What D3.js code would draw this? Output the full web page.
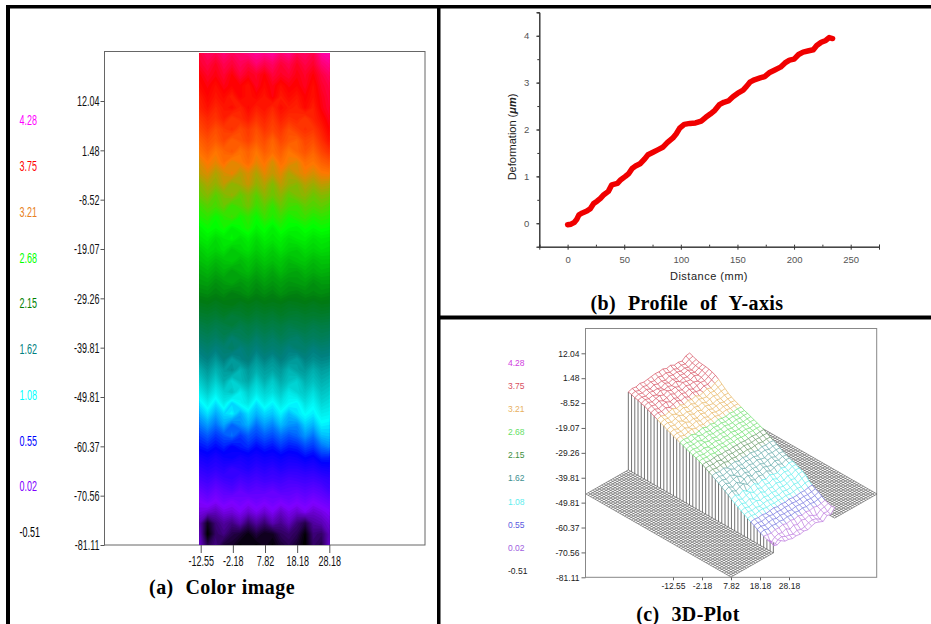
<!DOCTYPE html>
<html><head><meta charset="utf-8">
<script src="https://cdn.jsdelivr.net/npm/d3@7/dist/d3.min.js"></script>
<style>html,body{margin:0;padding:0;background:#fff}svg{display:block}text{font-family:"Liberation Sans",Arial,sans-serif}.cap{font-family:"Liberation Serif",serif;font-weight:bold;font-size:20px;fill:#000;text-anchor:middle;word-spacing:.5px;letter-spacing:.4px}</style>
</head><body><svg id="c" width="931" height="624"></svg>
<script>
// Colour legend shared by panels (a) and (c)
const legendValues=["4.28","3.75","3.21","2.68","2.15","1.62","1.08","0.55","0.02","-0.51"];
const legendColors=["#ff00ff","#ff0000","#e88020","#00ff00","#008000","#008080","#00ffff","#0000ff","#8000ff","#000000"];
const heatColors=["#ff00ff","#ff0000","#ff7800","#00ff00","#007a10","#008080","#00ffff","#0000ff","#8000ff","#000000"];
const legendColors3D=["#d040e0","#d85060","#e8b060","#66e066","#409040","#409090","#60eeee","#5a5ae0","#a060e0","#222222"];
// Mesh colour bands of panel (c), low to high
const bandEdges=[0.05,0.48,1.19,1.83,2.15,2.68,3.39];
const bandColors=["#c080e0","#7a7ae0","#66eeee","#68acac","#6a9c6a","#70e070","#e8b868","#d85868"];
// Tick labels
const yTickLabels=["12.04","1.48","-8.52","-19.07","-29.26","-39.81","-49.81","-60.37","-70.56","-81.11"];
const xTickLabels=["-12.55","-2.18","7.82","18.18","28.18"];
// Deformation field, in 0.01 µm: rows run along Y, columns across X
const field=[
[388,396,392,400,394,398,402,406,404,408,398,404,392,396,390,408,412],
[384,390,382,392,386,394,388,398,390,396,386,392,382,390,384,398,404],
[376,384,378,386,376,388,380,384,376,388,382,386,378,384,376,388,396],
[372,378,370,380,374,376,368,382,372,380,370,378,374,382,370,384,390],
[364,374,366,372,362,376,368,374,366,378,364,372,366,376,368,380,388],
[360,368,358,366,370,360,372,362,368,358,370,364,360,372,362,378,386],
[350,358,352,362,350,356,364,352,360,350,362,354,358,350,360,370,382],
[342,350,340,348,354,342,350,340,352,344,352,340,348,354,350,362,376],
[332,340,334,344,332,338,346,334,342,330,344,336,332,344,340,354,368],
[324,332,322,330,336,324,332,322,334,326,334,322,330,338,330,344,354],
[314,322,316,326,314,320,328,316,324,312,326,318,314,326,322,332,338],
[308,314,304,312,318,306,314,304,316,308,316,304,312,318,312,320,322],
[296,304,298,308,296,302,310,298,306,294,308,300,296,306,300,308,306],
[290,296,286,294,300,288,296,286,298,290,298,288,294,298,290,296,294],
[280,286,282,290,278,284,292,280,288,278,290,282,280,288,284,288,284],
[274,278,270,276,282,272,278,270,280,274,280,272,276,280,274,278,276],
[264,270,266,272,262,268,274,264,270,262,272,266,264,270,266,270,268],
[258,262,254,260,264,256,262,254,262,258,262,256,260,262,256,260,258],
[248,254,250,256,246,252,256,248,254,248,256,250,248,254,250,254,252],
[242,246,240,244,248,240,246,240,246,242,246,240,244,246,240,244,244],
[234,238,232,238,230,236,240,232,238,232,240,234,232,238,234,238,236],
[228,230,224,228,232,226,230,224,230,226,230,226,228,230,224,228,228],
[220,222,218,222,216,220,224,218,222,218,224,220,218,222,220,222,220],
[210,212,208,212,214,208,212,208,212,210,212,208,210,212,208,212,211],
[200,202,198,204,196,200,204,198,202,198,204,200,198,202,200,202,200],
[188,192,186,190,194,186,192,186,192,188,192,186,190,192,186,190,189],
[178,182,176,184,172,180,184,174,182,176,184,178,174,182,178,182,179],
[166,172,164,170,176,164,172,164,172,168,172,164,170,172,164,170,168],
[156,162,152,164,150,160,166,152,162,154,164,156,150,162,156,160,158],
[142,152,140,150,156,140,152,142,150,146,152,140,148,152,142,150,147],
[130,142,128,144,126,138,146,128,142,130,144,134,128,142,134,142,138],
[118,130,116,128,134,116,130,118,128,122,132,118,126,132,122,134,130],
[104,116,102,118,100,112,120,102,116,106,120,110,106,122,112,126,122],
[92,102,90,100,106,90,102,92,100,96,106,94,102,110,104,116,114],
[80,88,78,90,76,84,92,78,88,82,94,86,84,98,92,106,104],
[68,74,66,72,78,66,74,68,74,70,78,72,76,86,78,94,96],
[58,62,56,62,54,60,64,56,62,58,66,60,62,70,66,78,84],
[46,50,44,50,52,46,50,46,50,48,52,48,50,56,52,62,62],
[36,40,36,40,34,38,42,36,40,36,42,38,38,42,40,46,48],
[26,30,24,30,32,26,30,26,30,28,30,26,28,30,28,32,36],
[14,20,12,18,22,14,20,16,18,14,20,18,16,20,16,20,28],
[3,9,2,9,4,9,4,10,5,10,5,10,5,10,4,9,14],
[-4,-8,-12,-4,-6,0,-8,-1,-8,0,-10,-2,-8,-1,-8,-4,2],
[-14,-45,-26,-18,-24,-14,-30,-18,-28,-14,-22,-12,-26,-36,-18,-14,-6],
[-10,-52,-30,-24,-36,-40,-48,-38,-46,-44,-32,-28,-34,-50,-26,-30,-12],
[-8,-36,-24,-40,-42,-50,-46,-50,-44,-50,-40,-34,-42,-52,-30,-36,-8]];
// Panel (b) profile
const profileDistance=[0,3,6,8,10,13,17,20,23,26,29,32,36,39,44,47,51,54,57,60,64,68,71,75,80,84,88,93,96,99,103,108,113,118,122,126,130,134,138,142,146,150,155,158,161,165,170,174,178,183,188,192,196,200,204,208,213,217,220,224,228,231,234];
const profileDeform=[-0.03,-0.02,0.02,0.08,0.18,0.22,0.26,0.31,0.42,0.47,0.53,0.61,0.68,0.82,0.85,0.93,1.0,1.06,1.17,1.22,1.27,1.37,1.46,1.51,1.57,1.62,1.72,1.82,1.91,2.03,2.11,2.13,2.14,2.18,2.26,2.33,2.41,2.53,2.58,2.61,2.7,2.77,2.84,2.92,3.01,3.06,3.1,3.13,3.21,3.27,3.33,3.42,3.48,3.5,3.6,3.65,3.68,3.7,3.79,3.86,3.9,3.96,3.94];
const profileXTicks=[0,50,100,150,200,250];
const profileYTicks=[0,1,2,3,4];

const svg=d3.select("#c");
const nR=field.length,nC=field[0].length;
const stops=legendValues.map(Number).reverse();
const color=d3.scaleLinear().domain(stops).range(heatColors.slice().reverse()).clamp(true);

// frame
const frame=svg.append("g").attr("fill","#000");
[[6,5,925,3.5],[6,5,4,619],[437,5,3.5,619],[440,315.5,491,4]].forEach(d=>frame.append("rect").attr("x",d[0]).attr("y",d[1]).attr("width",d[2]).attr("height",d[3]));

function squeeze(sel,k,dx,dy){
  sel.selectAll("text").each(function(){
    d3.select(this).attr("transform",`translate(${dx||0},${dy||0}) scale(${k},1)`).attr("x",0).attr("dy","0.32em").attr("y",0);
  });
}
// ---------- panel (a)
const ax={l:104.5,r:425,t:51.5,b:545};
svg.append("rect").attr("x",ax.l).attr("y",ax.t).attr("width",ax.r-ax.l).attr("height",ax.b-ax.t).attr("fill","#fff").attr("stroke","#666");
const hx=d3.scaleLinear().domain([0,nC-1]).range([199.5,329.5]);
const hy=d3.scaleLinear().domain([0,nR-1]).range([53,545]);
const flat=field.flat().map(v=>v/100);
const thr=d3.range(-52,440,3).map(v=>v/100);
const cont=d3.contours().size([nC,nR]).thresholds(thr)(flat);
const path=d3.geoPath(d3.geoTransform({point(x,y){this.stream.point(hx(Math.min(nC-1,Math.max(0,x-0.5))),hy(Math.min(nR-1,Math.max(0,y-0.5))));}}));
svg.append("rect").attr("x",199.5).attr("y",53).attr("width",130).attr("height",492).attr("fill",color(-0.5));
svg.append("g").selectAll("path").data(cont).join("path").attr("d",path).attr("fill",d=>color(d.value+0.015));

const ay=d3.scalePoint().domain(yTickLabels).range([101,545]);
const gy=svg.append("g").attr("transform",`translate(${ax.l},0)`).call(d3.axisLeft(ay).tickSize(4));
gy.select(".domain").remove();gy.selectAll("line").attr("stroke","#555");
gy.selectAll("text").attr("font-size",15).attr("fill","#111").attr("text-anchor","end");
squeeze(gy,.6,-5,0);
const axx=d3.scalePoint().domain(xTickLabels).range([200.7,329.3]);
const gx=svg.append("g").attr("transform",`translate(0,${ax.b})`).call(d3.axisBottom(axx).tickSize(8));
gx.select(".domain").remove();gx.selectAll("line").attr("stroke","#555");
gx.selectAll("text").attr("font-size",15).attr("fill","#111").attr("text-anchor","middle");
squeeze(gx,.6,0,16.5);
const la=d3.scalePoint().domain(legendValues).range([120,532]);
svg.append("g").selectAll("text").data(legendValues).join("text").text(d=>d)
 .attr("transform",d=>`translate(19.5,${la(d)}) scale(.6,1)`).attr("dy","0.35em").attr("font-size",15).attr("fill",(d,i)=>legendColors[i]);
svg.append("text").attr("class","cap").attr("x",222).attr("y",594).text("(a)  Color image").attr("xml:space","preserve");

// ---------- panel (b)
const bx=d3.scaleLinear().domain([-25,275]).range([539.3,879]);
const by=d3.scaleLinear().domain([-0.5,4.5]).range([246.7,12.3]);
const gbx=svg.append("g").attr("transform","translate(0,246.7)").call(d3.axisBottom(bx).tickValues(profileXTicks).tickSize(3).tickPadding(7).tickFormat(d3.format("d")));
gbx.selectAll(".tick text").attr("font-size",9.5).attr("fill","#555");
const gbm=svg.append("g").attr("transform","translate(0,246.7)").call(d3.axisTop(bx).tickValues(d3.range(-25,276,25)).tickSize(2).tickFormat(""));
const gby=svg.append("g").attr("transform","translate(539.3,0)").call(d3.axisLeft(by).tickValues(profileYTicks).tickSize(3).tickPadding(7).tickFormat(d3.format("d")));
gby.selectAll(".tick text").attr("font-size",9.5).attr("fill","#555");
const gbym=svg.append("g").attr("transform","translate(539.3,0)").call(d3.axisLeft(by).tickValues(d3.range(0,4.6,.5)).tickSize(2).tickFormat(""));
[gbx,gby,gbm,gbym].forEach(g=>{g.selectAll("line").attr("stroke","#333");g.select(".domain").attr("stroke","#333");});
svg.append("path").datum(profileDistance.map((d,i)=>[d,profileDeform[i]]))
 .attr("d",d3.line().x(d=>bx(d[0])).y(d=>by(d[1]))).attr("fill","none").attr("stroke","#f00000").attr("stroke-width",5.5).attr("stroke-linecap","round").attr("stroke-linejoin","round");
svg.append("text").attr("x",709).attr("y",280).attr("text-anchor","middle").attr("font-size",11).attr("fill","#222").attr("letter-spacing",".5").text("Distance (mm)");
const yTitle=svg.append("text").attr("transform","translate(516,137) rotate(-90)").attr("text-anchor","middle").attr("font-size",11).attr("fill","#222").text("Deformation (");
yTitle.append("tspan").attr("font-style","italic").attr("font-weight","bold").text("μm");
yTitle.append("tspan").text(")");
svg.append("text").attr("class","cap").attr("x",687).attr("y",310).text("(b)  Profile  of  Y-axis").attr("xml:space","preserve");

// ---------- panel (c)
const cBox={l:585.5,r:876.7,t:328.5,b:577.3};
svg.append("rect").attr("x",cBox.l).attr("y",cBox.t).attr("width",cBox.r-cBox.l).attr("height",cBox.b-cBox.t).attr("fill","none").attr("stroke","#888");
const cy=d3.scalePoint().domain(yTickLabels).range([353.3,577.3]);
const gcy=svg.append("g").attr("transform",`translate(${cBox.l},0)`).call(d3.axisLeft(cy).tickSize(4).tickPadding(2));
gcy.select(".domain").remove();gcy.selectAll("line").attr("stroke","#666");
gcy.selectAll("text").attr("font-size",8.5).attr("fill","#222");
const cx=d3.scalePoint().domain(xTickLabels).range([673,789]);
const gcx=svg.append("g").attr("transform",`translate(0,${cBox.b})`).call(d3.axisBottom(cx).tickSize(3).tickPadding(3));
gcx.select(".domain").remove();gcx.selectAll("line").attr("stroke","#666");
gcx.selectAll("text").attr("font-size",8.5).attr("fill","#222");
const lc=d3.scalePoint().domain(legendValues).range([362.7,571]);
svg.append("g").selectAll("text").data(legendValues).join("text").text(d=>d).attr("x",508).attr("y",d=>lc(d)).attr("dy","0.35em").attr("font-size",8.5)
 .attr("fill",(d,i)=>legendColors3D[i]);

// projection of the rhombic floor: along (s) and across (t)
const sX=d3.scaleLinear().domain([0,1]).range([0,145]), sY=d3.scaleLinear().domain([0,1]).range([0,83]);
const tX=d3.scaleLinear().domain([0,1]).range([0,146]), tY=d3.scaleLinear().domain([0,1]).range([0,-83]);
const lift=d3.scaleLinear().domain([0,4]).range([12,80]);
const proj=(s,t,h)=>[586+sX(s)+tX(t),494+sY(s)+tY(t)-(h||0)];
const tA=.29,tB=.71;
const rs=d3.scaleLinear().domain([0,nR-1]).range([0,1]);
const ct=d3.scaleLinear().domain([0,nC-1]).range([tA,tB]);
const lp=d3.line();
const floor=svg.append("g").attr("stroke","#666").attr("stroke-width",.7).attr("fill","none");
function strip(t0,t1){
  const nS=64,nT=Math.round((t1-t0)*64);
  let d="";
  d3.range(nS+1).forEach(i=>{const s=i/nS;d+=lp([proj(s,t0),proj(s,t1)]);});
  d3.range(nT+1).forEach(j=>{const t=t0+(t1-t0)*j/nT;d+=lp([proj(0,t),proj(1,t)]);});
  floor.append("path").attr("d",d);
}
strip(0,tA);strip(tB,1);
// hidden-surface mask
const P=(r,c)=>proj(rs(r),ct(c),lift(field[r][c]/100));
const outline=[proj(0,tA)];
d3.range(nR).forEach(r=>outline.push(P(r,0)));
outline.push(proj(1,tA));
d3.range(nC).forEach(c=>outline.push(P(nR-1,c)));
d3.range(nR-1,-1,-1).forEach(r=>outline.push(P(r,nC-1)));
d3.range(nC-1,-1,-1).forEach(c=>outline.push(P(0,c)));
svg.append("path").attr("d",lp(outline)+"Z").attr("fill","#fff");
// wall
const wall=svg.append("g").attr("stroke","#444").attr("stroke-width",.75);
d3.range(nR).forEach(r=>{const top=P(r,0),b=proj(rs(r),tA);wall.append("line").attr("x1",top[0]).attr("y1",top[1]).attr("x2",b[0]).attr("y2",b[1]);});
// mesh: each row takes its band from the row's mean deformation
const band=d3.scaleThreshold().domain(bandEdges).range(bandColors);
const rowMean=field.map(row=>d3.mean(row)/100);
const mesh=svg.append("g").attr("stroke-width",.75).attr("fill","none");
const segs=[];
d3.range(nR).forEach(r=>d3.range(nC).forEach(c=>{
  if(c<nC-1)segs.push([P(r,c),P(r,c+1),rowMean[r]]);
  if(r<nR-1)segs.push([P(r,c),P(r+1,c),rowMean[r]]);
}));
mesh.selectAll("path").data(segs).join("path").attr("d",d=>lp([d[0],d[1]])).attr("stroke",d=>band(d[2]));
svg.append("text").attr("class","cap").attr("x",688).attr("y",621).text("(c)  3D-Plot").attr("xml:space","preserve");
</script></body></html>
